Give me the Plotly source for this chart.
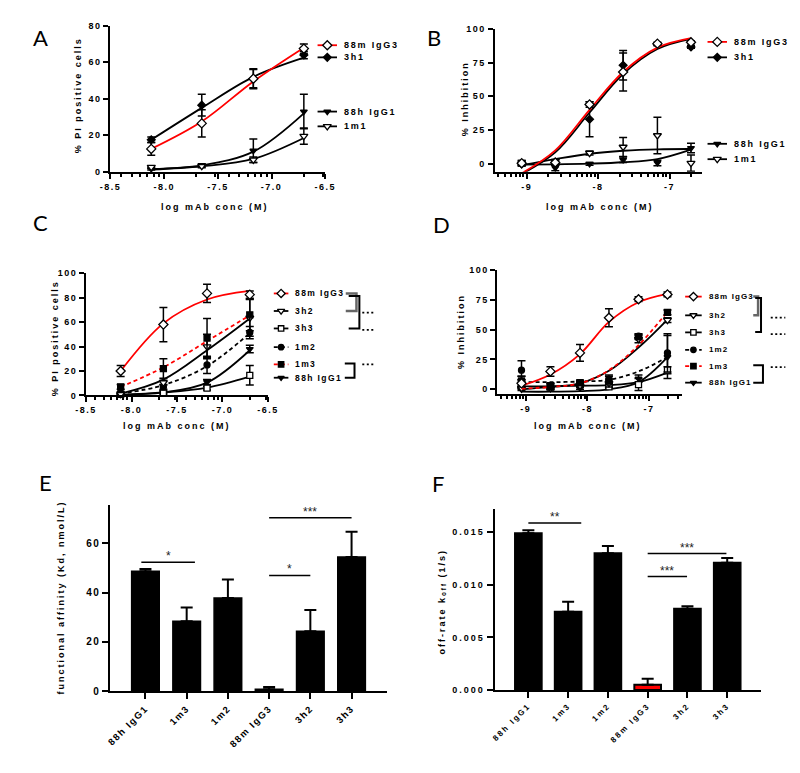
import math
import plotly.graph_objects as go

W, H = 800, 773
FONT = "Liberation Sans"

# ---------------- Panel A : % PI positive cells ----------------
A_x = [-8.12, -7.65, -7.17, -6.70]
A_88mIgG3 = [12.5, 26.5, 51.0, 67.5]
A_88mIgG3_err = [3.5, 7.5, 5.5, 2.5]
A_3h1 = [17.5, 36.5, 51.0, 64.0]
A_3h1_err = [1.5, 6.0, 5.0, 2.0]
A_88hIgG1 = [1.5, 3.5, 11.5, 33.0]
A_88hIgG1_err = [0.5, 0.8, 6.5, 9.5]
A_1m1 = [2.5, 3.0, 6.5, 19.5]
A_1m1_err = [0.8, 0.8, 1.5, 4.5]
A_fit_88mIgG3 = [12.5, 27.5, 49.5, 68.0]
A_fit_3h1 = [17.5, 35.0, 52.0, 62.5]
A_fit_88hIgG1 = [1.5, 3.5, 11.0, 32.0]
A_fit_1m1 = [1.2, 3.0, 7.0, 18.5]

# ---------------- Panel B : % Inhibition ----------------
B_x = [-9.07, -8.60, -8.12, -7.65, -7.17, -6.70]
B_88mIgG3 = [0.5, 1.0, 44.0, 68.0, 89.0, 90.0]
B_88mIgG3_err = [2.0, 2.0, 2.0, 14.0, 1.0, 1.0]
B_3h1 = [0.0, 0.0, 33.0, 73.0, 88.5, 86.5]
B_3h1_err = [1.0, 1.0, 13.0, 11.0, 1.0, 1.0]
B_88hIgG1 = [0.5, -3.0, 0.0, 3.0, 0.7, 11.7]
B_88hIgG1_err = [2.0, 2.0, 1.0, 2.0, 2.0, 3.5]
B_1m1 = [0.0, 2.0, 8.0, 12.5, 21.0, 0.5]
B_1m1_err = [1.0, 1.0, 1.5, 7.0, 13.5, 6.0]
B_fit_88mIgG3 = [-7.0, 10.0, 40.0, 68.0, 86.0, 93.0]
B_fit_3h1 = [-7.5, 8.5, 38.0, 66.5, 85.0, 92.5]
B_fit_88hIgG1 = [-0.5, -0.3, 0.2, 1.2, 3.5, 10.5]
B_fit_1m1 = [-1.0, 3.5, 7.5, 9.7, 10.8, 11.0]

# ---------------- Panel C : % PI positive cells ----------------
C_x = [-8.12, -7.65, -7.17, -6.70]
C_88mIgG3 = [20.0, 58.0, 83.5, 82.5]
C_88mIgG3_err = [4.5, 14.0, 7.5, 3.0]
C_3h2 = [1.0, 10.5, 40.0, 63.5]
C_3h2_err = [1.0, 2.0, 10.0, 15.0]
C_3h3 = [1.0, 2.0, 6.0, 16.5]
C_3h3_err = [0.5, 1.0, 1.5, 8.0]
C_1m2 = [2.0, 7.0, 25.0, 51.5]
C_1m2_err = [1.0, 2.0, 7.0, 5.0]
C_1m3 = [7.0, 22.0, 47.0, 66.0]
C_1m3_err = [2.0, 8.0, 16.0, 13.0]
C_88hIgG1 = [1.0, 3.0, 11.0, 38.0]
C_88hIgG1_err = [0.5, 1.0, 2.0, 3.0]
C_fit_88mIgG3 = [20.0, 59.0, 78.5, 85.5]
C_fit_3h2 = [1.5, 13.0, 37.0, 63.0]
C_fit_3h3 = [0.5, 2.5, 6.5, 15.5]
C_fit_1m2 = [1.5, 8.5, 24.0, 51.0]
C_fit_1m3 = [7.0, 23.0, 44.5, 65.5]
C_fit_88hIgG1 = [0.5, 2.5, 10.5, 37.0]

# ---------------- Panel D : % Inhibition ----------------
D_x = [-9.07, -8.60, -8.12, -7.65, -7.17, -6.70]
D_88mIgG3 = [5.0, 15.0, 30.5, 60.0, 75.5, 79.5]
D_88mIgG3_err = [3.0, 4.0, 7.0, 7.5, 2.0, 2.0]
D_3h2 = [1.0, 1.0, 3.0, 5.0, 42.0, 58.0]
D_3h2_err = [1.0, 1.0, 1.0, 1.0, 3.0, 2.0]
D_3h3 = [6.0, 3.0, 4.0, 2.0, 4.0, 16.0]
D_3h3_err = [5.0, 2.0, 2.0, 1.0, 5.0, 3.0]
D_1m2 = [16.0, 3.0, 5.0, 8.0, 44.5, 30.5]
D_1m2_err = [8.0, 2.0, 2.0, 3.0, 2.0, 16.0]
D_1m3 = [7.0, 2.0, 5.5, 7.0, 44.0, 64.5]
D_1m3_err = [4.0, 2.0, 2.0, 5.0, 2.0, 2.0]
D_88hIgG1 = [0.0, 0.5, 1.0, 3.0, 9.0, 27.0]
D_88hIgG1_err = [1.0, 1.0, 1.0, 2.0, 3.0, 18.0]
D_fit_88mIgG3 = [3.0, 12.4, 29.5, 56.5, 73.0, 80.0]
D_fit_3h2 = [0.0, 2.0, 5.0, 15.5, 35.0, 58.5]
D_fit_3h3 = [2.5, 2.5, 3.0, 3.5, 6.0, 14.0]
D_fit_1m2 = [6.0, 6.0, 6.5, 8.0, 15.0, 27.0]
D_fit_1m3 = [0.5, 2.0, 5.0, 16.0, 37.0, 65.0]
D_fit_88hIgG1 = [-2.0, -2.0, -1.5, 0.0, 6.0, 27.0]

# ---------------- Panels E / F : bars ----------------
bar_categories = ["88h IgG1", "1m3", "1m2", "88m IgG3", "3h2", "3h3"]
E_values = [48.7, 28.4, 37.8, 0.8, 24.3, 54.5]
E_errors = [0.9, 5.6, 7.5, 0.9, 8.7, 10.2]
E_sig_from = [-0.1, 3.0, 3.0]
E_sig_to = [1.2, 4.0, 5.0]
E_sig_level = [52.3, 47.0, 70.4]
E_sig_text = ["*", "*", "***"]
F_values = [0.0149, 0.00744, 0.0130, 0.0005, 0.00772, 0.0121]
F_errors = [0.0003, 0.00094, 0.0007, 0.00056, 0.00025, 0.00045]
F_sig_from = [0.0, 3.0, 3.0]
F_sig_to = [1.33, 4.98, 3.99]
F_sig_level = [0.01588, 0.01297, 0.01078]
F_sig_text = ["**", "***", "***"]

# tick labels
tick_logA = [-8.5, -8.0, -7.5, -7.0, -6.5]
tick_logA_text = ["-8.5", "-8.0", "-7.5", "-7.0", "-6.5"]
tick_logB = [-9, -8, -7]
tick_logB_text = ["-9", "-8", "-7"]

STY = {
    "88m IgG3": dict(color="red", dash="solid", symbol="diamond", fill="white", size=7),
    "3h1": dict(color="black", dash="solid", symbol="diamond", fill="black", size=6),
    "88h IgG1": dict(color="black", dash="solid", symbol="triangle-down", fill="black", size=6),
    "1m1": dict(color="black", dash="solid", symbol="triangle-down", fill="white", size=7),
    "3h2": dict(color="black", dash="solid", symbol="triangle-down", fill="white", size=7),
    "3h3": dict(color="black", dash="solid", symbol="square", fill="white", size=6),
    "1m2": dict(color="black", dash="4px,3px", symbol="circle", fill="black", size=6),
    "1m3": dict(color="red", dash="4px,3px", symbol="square", fill="black", size=6),
}


def sp(t, ls=1.5):
    return f'<span style="letter-spacing:{ls}px">{t}</span>'


def px(x):
    return x / W


def py(y):
    return 1 - y / H


fig = go.Figure()


def add_series(ax, x, y, err, fit, name):
    s = STY[name]
    fig.add_trace(go.Scatter(x=x, y=fit, mode="lines", xaxis="x" + ax, yaxis="y" + ax,
                             line=dict(color=s["color"], width=1.8, dash=s["dash"], shape="spline", smoothing=1.0),
                             showlegend=False, hoverinfo="skip"))
    fig.add_trace(go.Scatter(x=x, y=y, mode="markers", xaxis="x" + ax, yaxis="y" + ax,
                             marker=dict(symbol=s["symbol"], size=s["size"], color=s["fill"],
                                         line=dict(color="black", width=1.3)),
                             error_y=dict(type="data", array=err, color="black", thickness=1.5, width=4),
                             cliponaxis=False, showlegend=False, name=name))


add_series("", A_x, A_88hIgG1, A_88hIgG1_err, A_fit_88hIgG1, "88h IgG1")
add_series("", A_x, A_1m1, A_1m1_err, A_fit_1m1, "1m1")
add_series("", A_x, A_3h1, A_3h1_err, A_fit_3h1, "3h1")
add_series("", A_x, A_88mIgG3, A_88mIgG3_err, A_fit_88mIgG3, "88m IgG3")

add_series("2", B_x, B_88hIgG1, B_88hIgG1_err, B_fit_88hIgG1, "88h IgG1")
add_series("2", B_x, B_1m1, B_1m1_err, B_fit_1m1, "1m1")
add_series("2", B_x, B_3h1, B_3h1_err, B_fit_3h1, "3h1")
add_series("2", B_x, B_88mIgG3, B_88mIgG3_err, B_fit_88mIgG3, "88m IgG3")

add_series("3", C_x, C_88hIgG1, C_88hIgG1_err, C_fit_88hIgG1, "88h IgG1")
add_series("3", C_x, C_3h3, C_3h3_err, C_fit_3h3, "3h3")
add_series("3", C_x, C_1m2, C_1m2_err, C_fit_1m2, "1m2")
add_series("3", C_x, C_3h2, C_3h2_err, C_fit_3h2, "3h2")
add_series("3", C_x, C_1m3, C_1m3_err, C_fit_1m3, "1m3")
add_series("3", C_x, C_88mIgG3, C_88mIgG3_err, C_fit_88mIgG3, "88m IgG3")

add_series("4", D_x, D_88hIgG1, D_88hIgG1_err, D_fit_88hIgG1, "88h IgG1")
add_series("4", D_x, D_3h3, D_3h3_err, D_fit_3h3, "3h3")
add_series("4", D_x, D_1m2, D_1m2_err, D_fit_1m2, "1m2")
add_series("4", D_x, D_3h2, D_3h2_err, D_fit_3h2, "3h2")
add_series("4", D_x, D_1m3, D_1m3_err, D_fit_1m3, "1m3")
add_series("4", D_x, D_88mIgG3, D_88mIgG3_err, D_fit_88mIgG3, "88m IgG3")

# bars
fig.add_trace(go.Bar(x=bar_categories, y=E_values, xaxis="x5", yaxis="y5", width=0.67,
                     marker=dict(color="black", line=dict(color="black", width=1.5)),
                     error_y=dict(type="data", array=E_errors, arrayminus=[0] * 6, symmetric=False,
                                  color="black", thickness=2, width=6),
                     showlegend=False))
F_colors = ["red" if c == "88m IgG3" else "black" for c in bar_categories]
fig.add_trace(go.Bar(x=bar_categories, y=F_values, xaxis="x6", yaxis="y6", width=0.67,
                     marker=dict(color=F_colors, line=dict(color="black", width=2)),
                     error_y=dict(type="data", array=F_errors, arrayminus=[0] * 6, symmetric=False,
                                  color="black", thickness=2, width=6),
                     showlegend=False))

shapes = []
annotations = []

STARF = dict(family=FONT, size=12, color="#222222")
for x0, x1, lvl, t in zip(E_sig_from, E_sig_to, E_sig_level, E_sig_text):
    shapes.append(dict(type="line", xref="x5", yref="y5", x0=x0, x1=x1, y0=lvl, y1=lvl,
                       line=dict(color="black", width=1.5)))
    annotations.append(dict(xref="x5", yref="y5", x=(x0 + x1) / 2, y=lvl, text=t, showarrow=False,
                            yanchor="bottom", yshift=-3, font=STARF))
for x0, x1, lvl, t in zip(F_sig_from, F_sig_to, F_sig_level, F_sig_text):
    shapes.append(dict(type="line", xref="x6", yref="y6", x0=x0, x1=x1, y0=lvl, y1=lvl,
                       line=dict(color="black", width=1.5)))
    annotations.append(dict(xref="x6", yref="y6", x=(x0 + x1) / 2, y=lvl, text=t, showarrow=False,
                            yanchor="bottom", yshift=-3, font=STARF))


# ---------- manual legends (positions in pixels) ----------
def legend_entries(names, ys, lx0, lx1, tx, mscale, fsize, ls):
    for n, y in zip(names, ys):
        s = STY[n]
        fig.add_trace(go.Scatter(x=[lx0, lx1], y=[y, y], mode="lines", xaxis="x7", yaxis="y7",
                                 line=dict(color=s["color"], width=1.8, dash=s["dash"]),
                                 showlegend=False, hoverinfo="skip"))
        fig.add_trace(go.Scatter(x=[(lx0 + lx1) / 2], y=[y], mode="markers", xaxis="x7", yaxis="y7",
                                 marker=dict(symbol=s["symbol"], size=s["size"] * mscale, color=s["fill"],
                                             line=dict(color="black", width=1.3)),
                                 showlegend=False, hoverinfo="skip"))
        annotations.append(dict(xref="paper", yref="paper", x=px(tx), y=py(y), text=sp(n, ls),
                                xanchor="left", yanchor="middle", showarrow=False,
                                font=dict(family=FONT, size=fsize, color="black", weight="bold")))


legend_entries(["88m IgG3", "3h1", "88h IgG1", "1m1"], [32.7, 45, 100, 115], 307, 327, 332, 1.0, 9, 1.8)
legend_entries(["88m IgG3", "3h1", "88h IgG1", "1m1"], [29.3, 45, 132.7, 148.3], 708, 728, 733, 1.0, 9, 1.8)
legend_entries(["88m IgG3", "3h2", "3h3", "1m2", "1m3", "88h IgG1"],
               [284.5, 302.3, 320, 339, 356.5, 370], 262, 277, 282, 0.9, 8.5, 1.4)
legend_entries(["88m IgG3", "3h2", "3h3", "1m2", "1m3", "88h IgG1"],
               [287.7, 306.7, 324, 341.7, 358.3, 375], 685, 702, 707, 0.9, 8, 1.1)


def bracket(x0, x1, y0, y1, color="black", w=2):
    shapes.append(dict(type="path", xref="paper", yref="paper",
                       path=f"M {px(x0)},{py(y0)} L {px(x1)},{py(y0)} L {px(x1)},{py(y1)} L {px(x0)},{py(y1)}",
                       line=dict(color=color, width=w)))


def dots(x0, x1, y):
    shapes.append(dict(type="line", xref="paper", yref="paper", x0=px(x0), x1=px(x1), y0=py(y), y1=py(y),
                       line=dict(color="black", width=1.8, dash="2px,2.5px")))


bracket(336, 347, 284.5, 302.3, "#666", 2.5)
bracket(339, 350, 287, 320)
bracket(335, 345, 355.5, 370)
dots(353, 366, 304)
dots(353, 366, 321.5)
dots(353, 366, 356.5)

bracket(755, 760, 287.7, 306.7, "#666", 2.5)
bracket(757, 763, 289, 323.5)
bracket(755, 765, 357.3, 375)
dots(773, 788, 309)
dots(773, 788, 325.7)
dots(773, 788, 359.3)

# ---------- panel letters and axis titles ----------
for letter, x, y in [("A", 12, 25), ("B", 417, 25), ("C", 12, 213), ("D", 424, 215), ("E", 18, 476), ("F", 423, 477)]:
    annotations.append(dict(xref="paper", yref="paper", x=px(x), y=py(y), text=letter, showarrow=False,
                            xanchor="left", yanchor="middle", font=dict(family="Lato", size=22, color="black")))

TF = dict(family=FONT, size=9, color="black", weight="bold")
for text, x, y, ang in [
    ("log mAb conc (M)", 202, 197, 0),
    ("% PI positive cells", 60, 83, -90),
    ("log mAb conc (M)", 597, 197, 0),
    ("% Inhibition", 458, 87, -90),
    ("log mAb conc (M)", 162, 419, 0),
    ("% PI positive cells", 37, 330, -90),
    ("log mAb conc (M)", 585, 419, 0),
    ("% Inhibition", 455, 323, -90),
    ("functional affinity (Kd, nmol/L)", 43, 593, -90),
    ("off-rate k<sub>off</sub> (1/s)", 435, 597, -90),
]:
    annotations.append(dict(xref="paper", yref="paper", x=px(x), y=py(y), text=sp(text, 2), textangle=ang,
                            showarrow=False, xanchor="center", yanchor="middle", font=TF))


def minor_log(lo, hi):
    vals = []
    for e in range(-11, -5):
        for k in range(2, 10):
            v = e + math.log10(k)
            if lo < v < hi:
                vals.append(v)
    return vals


def axis(**kw):
    d = dict(showgrid=False, zeroline=False, showline=True, linecolor="black", linewidth=2,
             ticks="outside", tickcolor="black", tickwidth=2, ticklen=5,
             tickfont=dict(family=FONT, size=9, color="black", weight="bold"), fixedrange=True)
    d.update(kw)
    return d


def minor(lo, hi):
    return dict(tickmode="array", tickvals=minor_log(lo, hi), ticks="outside", ticklen=3,
                tickwidth=1.5, tickcolor="black", showgrid=False)


def yt(vals):
    return dict(tickmode="array", tickvals=vals, ticktext=[sp(str(v), 1.5) for v in vals])


layout = dict(
    width=W, height=H, autosize=False, margin=dict(l=0, r=0, t=0, b=0),
    paper_bgcolor="white", plot_bgcolor="rgba(0,0,0,0)", showlegend=False,
    xaxis=axis(domain=[px(94), px(315)], range=[-8.5, -6.5], anchor="y", tickmode="array",
               tickvals=tick_logA, ticktext=[sp(t) for t in tick_logA_text], minor=minor(-8.5, -6.5)),
    yaxis=axis(domain=[py(161), py(13)], range=[0, 80], anchor="x", **yt([0, 20, 40, 60, 80])),
    xaxis2=axis(domain=[px(489), px(702)], range=[-9.45, -6.55], anchor="y2", tickmode="array",
                tickvals=tick_logB, ticktext=[sp(t) for t in tick_logB_text], minor=minor(-9.45, -6.55)),
    yaxis2=axis(domain=[py(161), py(16)], range=[-5.8, 100], anchor="x2", **yt([0, 25, 50, 75, 100])),
    xaxis3=axis(domain=[px(69), px(256)], range=[-8.5, -6.5], anchor="y3", tickmode="array",
                tickvals=tick_logA, ticktext=[sp(t) for t in tick_logA_text], minor=minor(-8.5, -6.5)),
    yaxis3=axis(domain=[py(388), py(264)], range=[0, 100], anchor="x3", **yt([0, 20, 40, 60, 80, 100])),
    xaxis4=axis(domain=[px(492), px(682)], range=[-9.46, -6.46], anchor="y4", tickmode="array",
                tickvals=tick_logB, ticktext=[sp(t) for t in tick_logB_text], minor=minor(-9.46, -6.46)),
    yaxis4=axis(domain=[py(386.7), py(260.7)], range=[-4.1, 100], anchor="x4", **yt([0, 25, 50, 75, 100])),
    xaxis5=axis(domain=[px(94), px(378)], range=[-0.85, 5.85], anchor="y5", type="category",
                tickmode="array", tickvals=bar_categories, ticktext=[sp(c, 1.5) for c in bar_categories],
                tickangle=-45, ticklen=6, tickfont=dict(family=FONT, size=9.5, color="black", weight="bold")),
    yaxis5=axis(domain=[py(688), py(499)], range=[0, 75.6], anchor="x5", ticklen=6,
                tickfont=dict(family=FONT, size=10, color="black", weight="bold"), **yt([0, 20, 40, 60])),
    xaxis6=axis(domain=[px(489), px(763)], range=[-0.85, 5.85], anchor="y6", type="category",
                tickmode="array", tickvals=bar_categories, ticktext=[sp(c, 2) for c in bar_categories],
                tickangle=-45, ticklen=6, tickfont=dict(family=FONT, size=8, color="black", weight="bold")),
    yaxis6=axis(domain=[py(686.7), py(503.3)], range=[0, 0.0172], anchor="x6", ticklen=6,
                tickmode="array", tickvals=[0, 0.005, 0.01, 0.015],
                ticktext=[sp(t, 2) for t in ["0.000", "0.005", "0.010", "0.015"]]),
    xaxis7=dict(domain=[0, 1], range=[0, W], visible=False, fixedrange=True, anchor="y7"),
    yaxis7=dict(domain=[0, 1], range=[H, 0], visible=False, fixedrange=True, anchor="x7"),
    shapes=shapes, annotations=annotations,
)
fig.update_layout(**layout)
fig.write_html("out.html")
